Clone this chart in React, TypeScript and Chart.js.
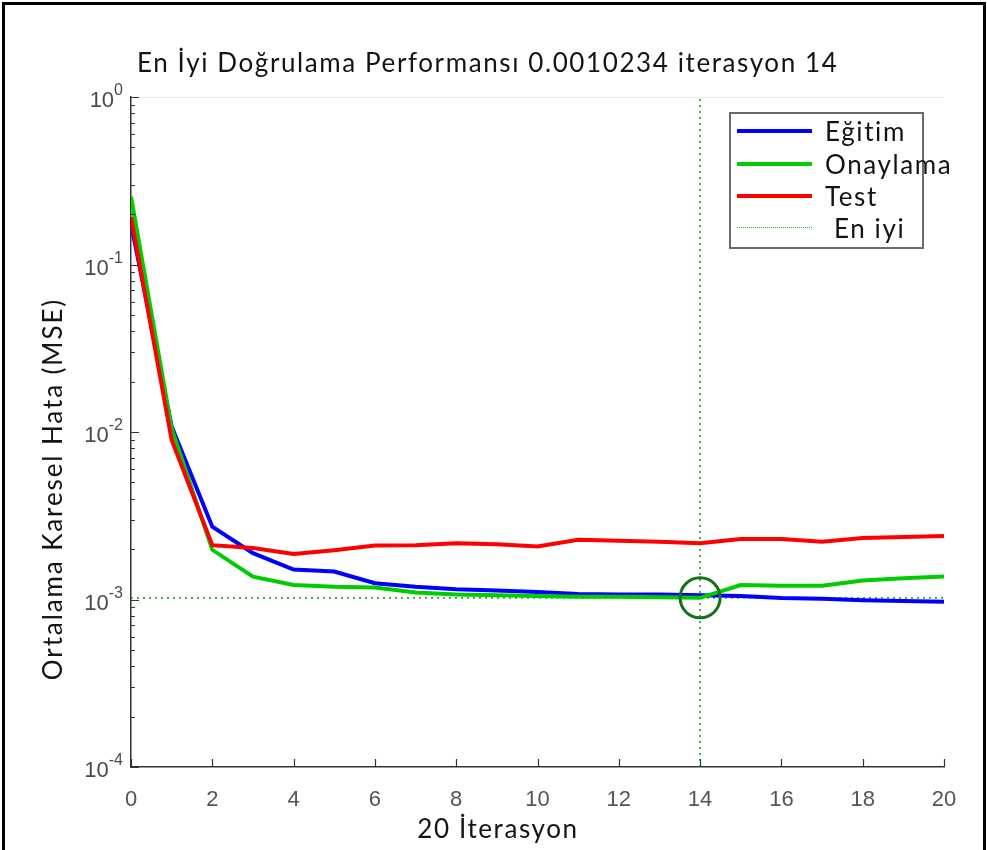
import React, { useEffect, useRef } from 'react';
import { Chart, registerables } from 'chart.js';

Chart.register(...registerables);

// ---- data ----
const iterations = [0, 1, 2, 3, 4, 5, 6, 7, 8, 9, 10, 11, 12, 13, 14, 15, 16, 17, 18, 19, 20];
const egitim = [0.175, 0.0108, 0.00272, 0.00189, 0.00151, 0.00147, 0.00125, 0.00119, 0.00115, 0.00113, 0.00111, 0.00108, 0.00107, 0.00107, 0.00106, 0.00105, 0.00102, 0.00101, 0.00099, 0.00098, 0.00097];
const onaylama = [0.254, 0.0105, 0.00198, 0.00137, 0.00122, 0.00119, 0.00118, 0.0011, 0.00107, 0.00106, 0.00105, 0.00104, 0.00104, 0.00103, 0.0010234, 0.00122, 0.00121, 0.00121, 0.0013, 0.00134, 0.00137];
const test = [0.192, 0.00895, 0.00211, 0.00203, 0.00187, 0.00197, 0.0021, 0.00211, 0.00217, 0.00214, 0.00207, 0.00227, 0.00224, 0.00221, 0.00217, 0.0023, 0.0023, 0.00221, 0.00233, 0.00236, 0.00239];
const bestIteration = 14;
const bestValue = 0.0010234;
const xTicks = [0, 2, 4, 6, 8, 10, 12, 14, 16, 18, 20];
const yTickExponents = [0, -1, -2, -3, -4];
const seriesLabels = ['Eğitim', 'Onaylama', 'Test', 'En iyi'];
const seriesColors = ['#0000ff', '#00cc00', '#ff0000', '#35a835'];
const titleText = 'En İyi Doğrulama Performansı 0.0010234 iterasyon 14';
const xTitle = '20 İterasyon';
const yTitle = 'Ortalama Karesel Hata (MSE)';

const X_MIN = 0;
const X_MAX = 20;
const Y_MIN = 1e-4;
const Y_MAX = 1;

const textFont = 'Lato, "Open Sans", sans-serif';
const tickFont = '"Liberation Sans", Arial, sans-serif';

const axisPlugin = {
  id: 'matlabAxes',
  afterDraw(chart: any) {
    const ctx = chart.ctx;
    const { left, right, top, bottom } = chart.chartArea;
    const xs = chart.scales.x;
    const ys = chart.scales.y;
    ctx.save();
    // faint top box line
    ctx.strokeStyle = '#e6e6e6';
    ctx.lineWidth = 1;
    ctx.beginPath();
    ctx.moveTo(left, top + 0.5);
    ctx.lineTo(right, top + 0.5);
    ctx.stroke();
    // inward ticks
    ctx.strokeStyle = '#333333';
    ctx.lineWidth = 1.2;
    ctx.beginPath();
    xTicks.forEach((v) => {
      const px = Math.round(xs.getPixelForValue(v)) + 0.5;
      ctx.moveTo(px, bottom);
      ctx.lineTo(px, bottom - 8);
    });
    yTickExponents.forEach((e) => {
      for (let m = 1; m <= 9; m++) {
        const v = m * Math.pow(10, e);
        if (v < Y_MIN - 1e-12 || v > Y_MAX + 1e-12) continue;
        const py = Math.round(ys.getPixelForValue(v)) + 0.5;
        ctx.moveTo(left, py);
        ctx.lineTo(left + (m === 1 ? 8 : 4), py);
      }
    });
    ctx.stroke();
    // y tick labels 10^e
    ctx.fillStyle = '#4a4a4a';
    ctx.textAlign = 'right';
    ctx.textBaseline = 'alphabetic';
    yTickExponents.forEach((e) => {
      const py = ys.getPixelForValue(Math.pow(10, e));
      const expText = String(e);
      ctx.font = `16px ${tickFont}`;
      const ew = ctx.measureText(expText).width;
      const xr = left - 8;
      ctx.fillText(expText, xr, py - 2);
      ctx.font = `22px ${tickFont}`;
      ctx.fillText('10', xr - ew, py + 10);
    });
    ctx.restore();
  },
};

export default function App() {
  const canvasRef = useRef<HTMLCanvasElement | null>(null);

  useEffect(() => {
    const canvas = canvasRef.current;
    if (!canvas) return;
    const pts = (arr: number[]) => iterations.map((x, i) => ({ x, y: arr[i] }));
    const chart = new Chart(canvas, {
      type: 'line',
      data: {
        datasets: [
          {
            label: seriesLabels[0],
            data: pts(egitim),
            borderColor: seriesColors[0],
            borderWidth: 4,
            pointRadius: 0,
            tension: 0,
            order: 3,
          },
          {
            label: seriesLabels[1],
            data: pts(onaylama),
            borderColor: seriesColors[1],
            borderWidth: 4,
            pointRadius: 0,
            tension: 0,
            order: 2,
          },
          {
            label: seriesLabels[2],
            data: pts(test),
            borderColor: seriesColors[2],
            borderWidth: 4,
            pointRadius: 0,
            tension: 0,
            order: 1,
          },
          {
            label: seriesLabels[3],
            data: [
              { x: X_MIN, y: bestValue },
              { x: X_MAX, y: bestValue },
            ],
            borderColor: seriesColors[3],
            borderWidth: 1.8,
            borderDash: [2, 4],
            pointRadius: 0,
            order: 5,
          },
          {
            label: 'bestVertical',
            data: [
              { x: bestIteration, y: Y_MIN },
              { x: bestIteration, y: Y_MAX },
            ],
            borderColor: seriesColors[3],
            borderWidth: 1.8,
            borderDash: [2, 4],
            pointRadius: 0,
            order: 5,
          },
          {
            label: 'bestPoint',
            data: [{ x: bestIteration, y: bestValue }],
            showLine: false,
            pointRadius: 20,
            pointBorderWidth: 3,
            pointBorderColor: '#17701a',
            pointBackgroundColor: 'rgba(0,0,0,0)',
            order: 0,
          },
        ],
      },
      options: {
        animation: false,
        responsive: false,
        maintainAspectRatio: false,
        layout: { padding: { left: 0, right: 43, top: 97, bottom: 0 } },
        plugins: {
          legend: { display: false },
          title: { display: false },
          tooltip: { enabled: false },
        },
        scales: {
          x: {
            type: 'linear',
            min: X_MIN,
            max: X_MAX,
            afterBuildTicks: (scale: any) => {
              scale.ticks = xTicks.map((v) => ({ value: v }));
            },
            afterFit: (scale: any) => {
              scale.height = 83;
            },
            grid: { display: false, drawTicks: false },
            border: { display: true, color: '#333333', width: 1.5 },
            ticks: {
              color: '#555555',
              font: { family: tickFont, size: 22 },
              padding: 20,
              maxRotation: 0,
              autoSkip: false,
            },
          },
          y: {
            type: 'logarithmic',
            min: Y_MIN,
            max: Y_MAX,
            afterBuildTicks: (scale: any) => {
              scale.ticks = yTickExponents.map((e) => ({ value: Math.pow(10, e) }));
            },
            afterFit: (scale: any) => {
              scale.width = 131;
            },
            grid: { display: false, drawTicks: false },
            border: { display: true, color: '#333333', width: 1.5 },
            ticks: { display: false },
          },
        },
      },
      plugins: [axisPlugin],
    });
    return () => chart.destroy();
  }, []);

  const legendRows = [0, 1, 2, 3];
  const rowY = [131, 164, 196, 228];
  const textStyle = { font: `26px ${textFont}`, letterSpacing: '1.6px', color: '#141414', whiteSpace: 'nowrap' as const, lineHeight: '32px' };

  return (
    <div style={{ position: 'absolute', left: 0, top: 0, width: 987, height: 850, background: '#ffffff', overflow: 'hidden' }}>
      <canvas ref={canvasRef} width={987} height={850} style={{ position: 'absolute', left: 0, top: 0, width: 987, height: 850 }} />
      <div style={{ position: 'absolute', left: 2, top: 2, width: 978, height: 860, borderTop: '3px solid #000', borderLeft: '3px solid #000', borderRight: '3px solid #000', pointerEvents: 'none' }} />
      <div style={{ position: 'absolute', left: 137, top: 46, ...textStyle }}>{titleText}</div>
      <div style={{ position: 'absolute', left: 398, width: 200, top: 812, textAlign: 'center', ...textStyle }}>{xTitle}</div>
      <div style={{ position: 'absolute', left: 52, top: 489, width: 0, height: 0 }}>
        <div style={{ position: 'absolute', left: -250, top: -16, width: 500, textAlign: 'center', transform: 'rotate(-90deg)', ...textStyle, letterSpacing: '1.9px' }}>
          {yTitle}
        </div>
      </div>
      <div style={{ position: 'absolute', left: 729, top: 112, width: 191, height: 133, border: '2px solid #6b6b6b', background: '#ffffff' }} />
      {legendRows.map((i) => (
        <React.Fragment key={i}>
          <div
            style={{
              position: 'absolute',
              left: 737,
              width: 75,
              top: i === 3 ? rowY[i] - 1 : rowY[i] - 2,
              height: 0,
              borderTop: i === 3 ? `1.5px dotted ${seriesColors[i]}` : `4px solid ${seriesColors[i]}`,
            }}
          />
          <div style={{ position: 'absolute', left: i === 3 ? 834 : 825, top: rowY[i] - 16, ...textStyle }}>{seriesLabels[i]}</div>
        </React.Fragment>
      ))}
    </div>
  );
}
